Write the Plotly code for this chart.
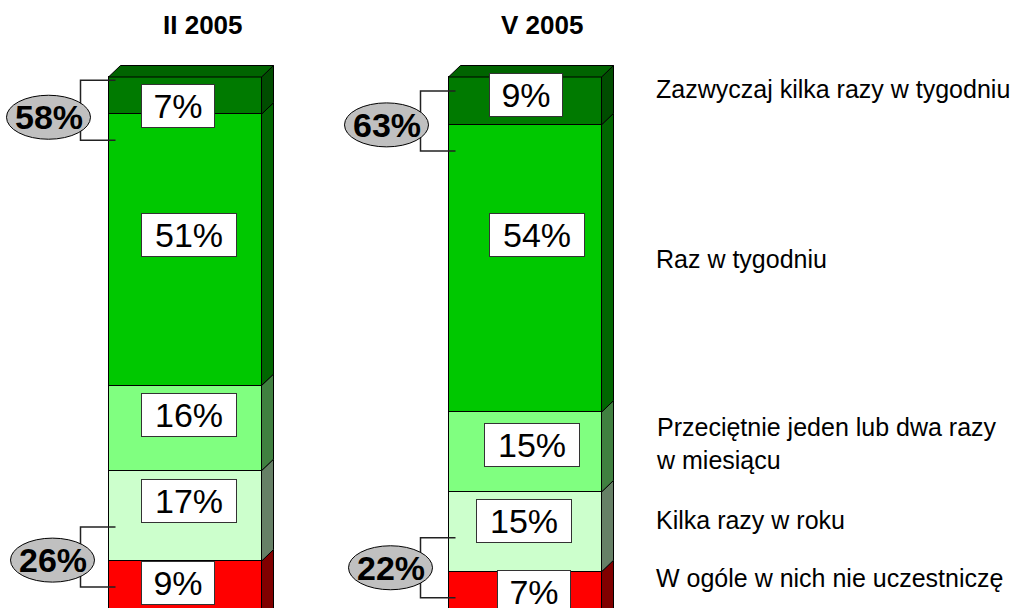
import plotly.graph_objects as go

# ---------------- data ----------------
periods = ["II 2005", "V 2005"]
categories = [
    "W ogóle w nich nie uczestniczę",
    "Kilka razy w roku",
    "Przeciętnie jeden lub dwa razy<br>w miesiącu",
    "Raz w tygodniu",
    "Zazwyczaj kilka razy w tygodniu",
]
values_ii = [9, 17, 16, 51, 7]
values_v = [7, 15, 15, 54, 9]
series = [values_ii, values_v]

# ---------------- style ----------------
FONT = "Liberation Sans, Arial, sans-serif"
front_colors = ["#FF0000", "#CCFFCC", "#80FF80", "#00C800", "#007A00"]
side_colors = ["#800000", "#668066", "#408040", "#006600", "#004C00"]
top_color = "#006400"

W, H = 1026, 608
PX_X = 340.0            # pixels per x unit
PX_Y = 5.32             # pixels per percent
X0_PX = 185.0           # pixel of first bar centre
Y0_PX = 609.0           # pixel of 0 %
bar_w = 0.45
dx = 12 / PX_X
dy = 11.5 / PX_Y

# label box offsets (px from bar left edge / segment centre, up positive)
label_dx = [[32, 32, 32, 32, 32], [48, 27, 35, 40, 40]]
label_dy = [[2.5, 15, 13.5, 15, -10.5], [-2, 11, 7, 33.5, 5.5]]
# ellipse centre offsets (px from bar left edge / boundary)
ell_upper = [(-60, -3), (-62, 0)]
ell_lower = [(-56, 1), (-58, 4)]
legend_dy = [12, 12, 9, 10, 12]
title_dx = [18, 17]

fig = go.Figure()

# front faces
for j, cat in enumerate(categories):
    fig.add_trace(go.Bar(
        x=[0, 1], y=[series[0][j], series[1][j]], width=bar_w,
        marker=dict(color=front_colors[j], line=dict(color="black", width=1)),
        name=cat, showlegend=False, hoverinfo="skip",
    ))

# side and top faces
for i, vals in enumerate(series):
    xl = i - bar_w / 2
    xr = i + bar_w / 2
    cum = 0
    for j, v in enumerate(vals):
        y0 = cum
        y1 = cum + v
        y0b = y0 - (dy if j == 0 else 0)
        fig.add_trace(go.Scatter(
            x=[xr, xr + dx, xr + dx, xr, xr],
            y=[y0b, y0b + dy, y1 + dy, y1, y0b],
            mode="lines", fill="toself", fillcolor=side_colors[j],
            line=dict(color="black", width=1), showlegend=False, hoverinfo="skip",
        ))
        cum = y1
    total = cum
    fig.add_trace(go.Scatter(
        x=[xl, xl + dx, xr + dx, xr, xl],
        y=[total, total + dy, total + dy, total, total],
        mode="lines", fill="toself", fillcolor=top_color,
        line=dict(color="black", width=1), showlegend=False, hoverinfo="skip",
    ))

shapes = []
annotations = []

for i, vals in enumerate(series):
    xl = i - bar_w / 2
    total = sum(vals)
    # value labels in white boxes
    cum = 0
    for j, v in enumerate(vals):
        txt = f"{v}%"
        annotations.append(dict(
            x=xl, y=cum + v / 2, xref="x", yref="y", text=txt, showarrow=False,
            xanchor="left", yanchor="middle",
            xshift=label_dx[i][j], yshift=label_dy[i][j],
            width=72 if len(txt) == 2 else 94, height=42,
            bgcolor="white", bordercolor="#333333", borderwidth=1, borderpad=0,
            font=dict(family=FONT, size=34, color="black"),
        ))
        cum += v
    # group brackets with ellipses
    groups = [
        (total - vals[-1], vals[-1] + vals[-2], ell_upper[i]),
        (vals[0], vals[0] + vals[1], ell_lower[i]),
    ]
    for yb, gsum, (cx, cy) in groups:
        shapes.append(dict(
            type="path", xref="x", yref="y", xsizemode="pixel", ysizemode="pixel",
            xanchor=xl, yanchor=yb,
            path="M 7,34 L -28,34 L -28,-26 L 7,-26",
            line=dict(color="#222222", width=1.5), layer="above",
        ))
        shapes.append(dict(
            type="circle", xref="x", yref="y", xsizemode="pixel", ysizemode="pixel",
            xanchor=xl, yanchor=yb,
            x0=cx - 42, x1=cx + 42, y0=cy - 22, y1=cy + 22,
            fillcolor="#C0C0C0", line=dict(color="black", width=1), layer="above",
        ))
        annotations.append(dict(
            x=xl, y=yb, xref="x", yref="y", text=f"<b>{gsum}%</b>", showarrow=False,
            xanchor="center", yanchor="middle", xshift=cx, yshift=cy,
            font=dict(family=FONT, size=34, color="black"),
        ))
    # period title
    annotations.append(dict(
        x=i, y=1 - 25 / H, xref="x", yref="paper", text=f"<b>{periods[i]}</b>",
        showarrow=False, xanchor="center", yanchor="middle", xshift=title_dx[i],
        font=dict(family=FONT, size=26, color="black"),
    ))

# category legend next to the second bar
cum = 0
for j, cat in enumerate(categories):
    v = values_v[j]
    annotations.append(dict(
        x=655 / W, y=cum + v / 2, xref="paper", yref="y", text=cat, showarrow=False,
        xanchor="left", yanchor="middle", align="left", yshift=legend_dy[j], borderpad=0,
        font=dict(family=FONT, size=25, color="black"),
    ))
    cum += v

fig.update_layout(
    width=W, height=H, margin=dict(l=0, r=0, t=0, b=0),
    paper_bgcolor="white", plot_bgcolor="white",
    barmode="stack", bargap=0,
    xaxis=dict(range=[-X0_PX / PX_X, (W - X0_PX) / PX_X], visible=False, fixedrange=True),
    yaxis=dict(range=[(Y0_PX - H) / PX_Y, Y0_PX / PX_Y], visible=False, fixedrange=True),
    shapes=shapes, annotations=annotations, showlegend=False,
)

fig.write_html(
    "out.html",
    config={"displayModeBar": False},
    post_script="document.body.style.margin='0px';document.body.style.overflow='hidden';",
)
